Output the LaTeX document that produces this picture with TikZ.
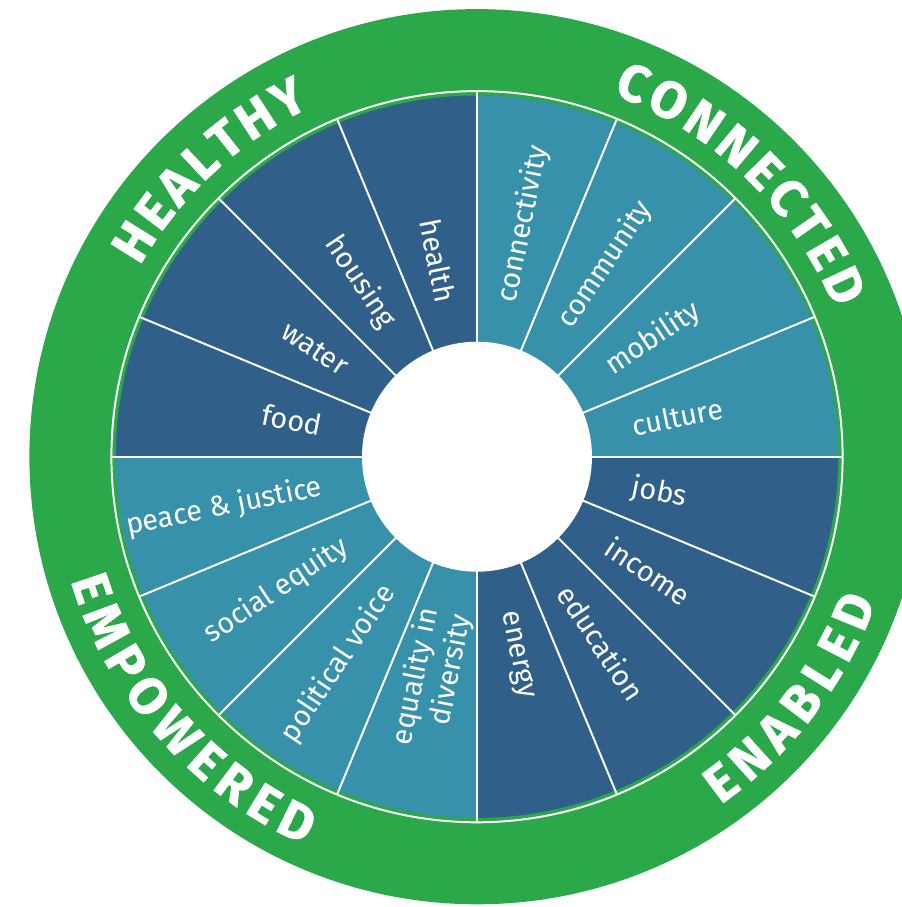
\documentclass[tikz,border=0pt]{standalone}
\usepackage{fontspec}
\newfontfamily\wheelfont{Fira Sans}
\newfontfamily\rimfamily{Fira Sans}[BoldFeatures={FakeBold=1.2}]
\usetikzlibrary{decorations.text}

\definecolor{ringgreen}{RGB}{42,168,74}
\definecolor{wedgeblue}{RGB}{48,96,138}
\definecolor{wedgeteal}{RGB}{56,145,170}

\newcommand{\rtext}{3.95}
\newcommand{\rimfont}{\rimfamily\bfseries\fontsize{37}{37}\selectfont}

\begin{document}
\begin{tikzpicture}[
    lbl/.style={text=white, inner sep=0pt, font=\wheelfont\fontsize{20.5}{24}\selectfont},
    rim/.style={decorate, decoration={text along path, text align=fit to path, text color=white}}
  ]
\clip (-11.925,-11.2575) rectangle (10.625,11.4175);
\coordinate (O) at (0,0);

% green ring with its white rim line
\fill[ringgreen] (O) circle (11.19);
\draw[white, line width=1.4pt] (O) circle (9.14);

% the four quadrants
\fill[wedgeteal] (O) -- (0:9.03) arc (0:90:9.03) -- cycle;
\fill[wedgeblue] (O) -- (90:9.03) arc (90:180:9.03) -- cycle;
\fill[wedgeteal] (O) -- (180:9.03) arc (180:270:9.03) -- cycle;
\fill[wedgeblue] (O) -- (270:9.03) arc (270:360:9.03) -- cycle;

% spokes between the sectors
\begin{scope}[white, line width=1.4pt]
    \draw (0:9.14) -- (180:9.14);
    \draw (22.5:9.14) -- (202.5:9.14);
    \draw (45:9.14) -- (225:9.14);
    \draw (67.5:9.14) -- (247.5:9.14);
    \draw (90:9.14) -- (270:9.14);
    \draw (112.5:9.14) -- (292.5:9.14);
    \draw (135:9.14) -- (315:9.14);
    \draw (157.5:9.14) -- (337.5:9.14);
\end{scope}
\fill[white] (O) circle (2.875);

% right half reads outwards
\node[lbl, anchor=west, rotate=78.75] (connectivity) at (78.75:\rtext) {connectivity};
\node[lbl, anchor=west, rotate=56.25] (community) at (56.25:\rtext) {community};
\node[lbl, anchor=west, rotate=33.75] (mobility) at (33.75:\rtext) {mobility};
\node[lbl, anchor=west, rotate=11.25] (culture) at (11.25:\rtext) {culture};
\node[lbl, anchor=west, rotate=-11.25] (jobs) at (-11.25:\rtext) {jobs};
\node[lbl, anchor=west, rotate=-33.75] (income) at (-33.75:\rtext) {income};
\node[lbl, anchor=west, rotate=-56.25] (education) at (-56.25:\rtext) {education};
\node[lbl, anchor=west, rotate=-78.75] (energy) at (-78.75:\rtext) {energy};

% left half reads inwards
\node[lbl, anchor=east, rotate=78.75, align=right] (equality) at (-101.25:\rtext) {equality in\\diversity};
\node[lbl, anchor=east, rotate=56.25] (voice) at (-123.75:\rtext) {political voice};
\node[lbl, anchor=east, rotate=33.75] (equity) at (-146.25:\rtext) {social equity};
\node[lbl, anchor=east, rotate=11.25] (justice) at (-168.75:\rtext) {peace \& justice};
\node[lbl, anchor=east, rotate=-11.25] (food) at (168.75:\rtext) {food};
\node[lbl, anchor=east, rotate=-33.75] (water) at (146.25:\rtext) {water};
\node[lbl, anchor=east, rotate=-56.25] (housing) at (123.75:\rtext) {housing};
\node[lbl, anchor=east, rotate=-78.75] (health) at (101.25:\rtext) {health};

% words on the green ring
\path[rim, decoration={text={|\rimfont|HEALTHY}}] (150.5:9.68) arc (150.5:115.5:9.68);
\path[rim, decoration={text={|\rimfont|CONNECTED}}] (69.5:9.68) arc (69.5:22.5:9.68);
\path[rim, decoration={text={|\rimfont|ENABLED}}] (-55:10.62) arc (-55:-20:10.62);
\path[rim, decoration={text={|\rimfont|EMPOWERED}}] (-163:10.62) arc (-163:-114:10.62);
\end{tikzpicture}
\end{document}
